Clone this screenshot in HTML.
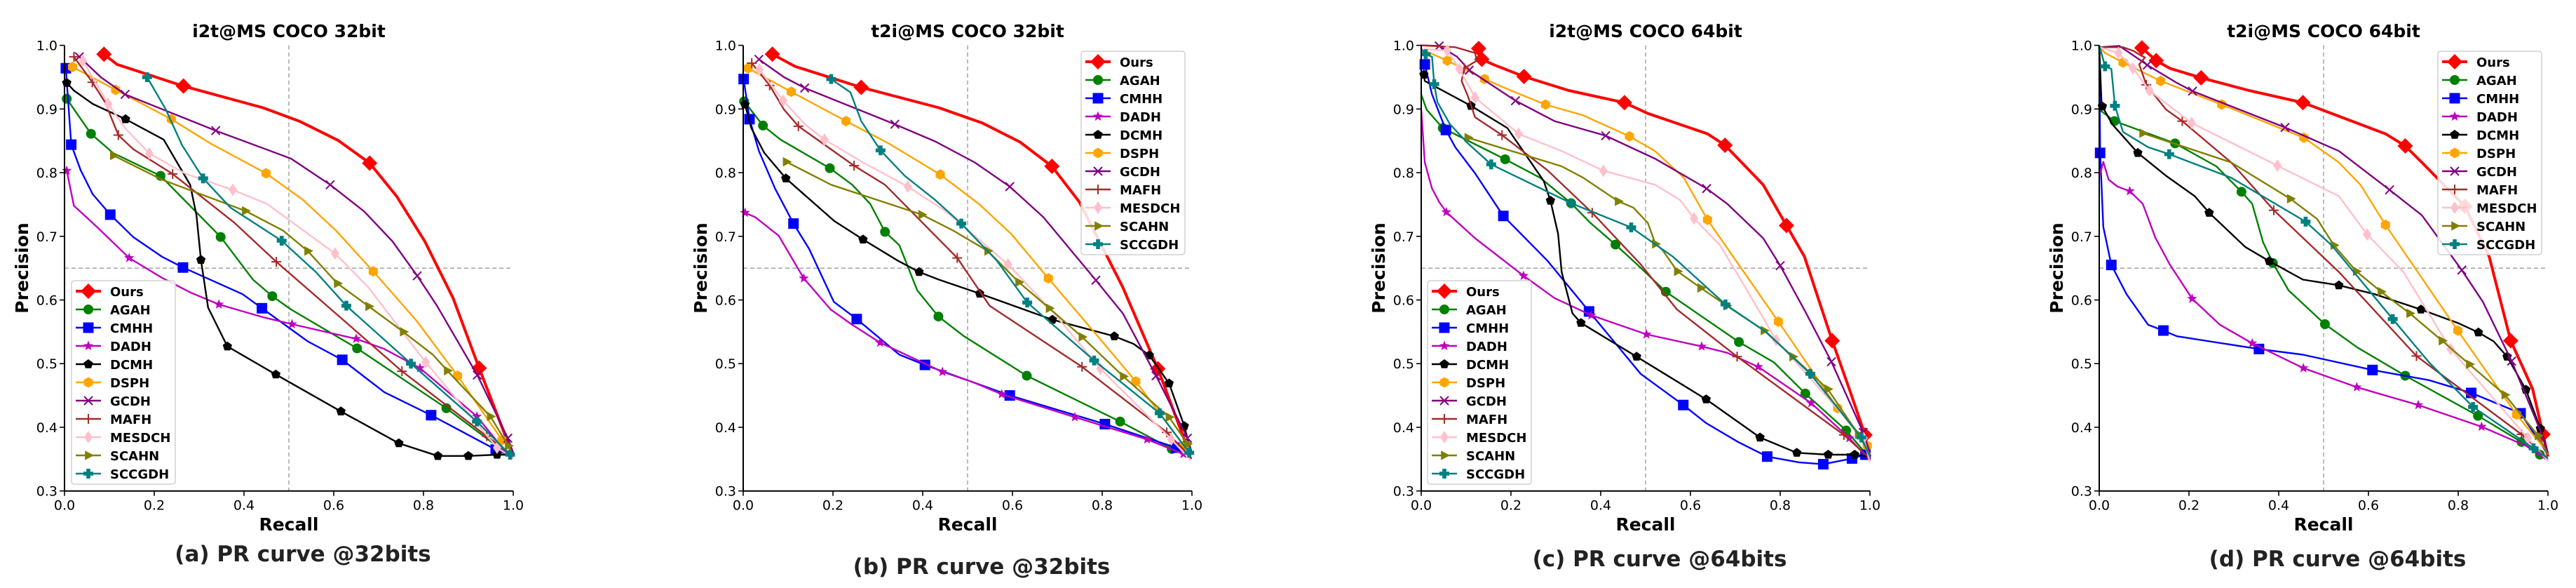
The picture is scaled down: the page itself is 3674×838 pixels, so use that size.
<!DOCTYPE html>
<html><head><meta charset="utf-8">
<style>
html,body{margin:0;padding:0;background:#fff;}
svg{display:block;font-family:"DejaVu Sans","Liberation Sans",sans-serif;}
</style></head>
<body>
<svg id="fig" width="3674" height="838" viewBox="0 0 3674 838" xmlns="http://www.w3.org/2000/svg"></svg>
<script>
// ---- data: [recall, precision, hasMarker] ----
const names = ["Ours","AGAH","CMHH","DADH","DCMH","DSPH","GCDH","MAFH","MESDCH","SCAHN","SCCGDH"];
const titles = ["i2t@MS COCO 32bit","t2i@MS COCO 32bit","i2t@MS COCO 64bit","t2i@MS COCO 64bit"];
const captions = ["(a) PR curve @32bits","(b) PR curve @32bits","(c) PR curve @64bits","(d) PR curve @64bits"];
const xTicks = [0.0,0.2,0.4,0.6,0.8,1.0];
const yTicks = [0.3,0.4,0.5,0.6,0.7,0.8,0.9,1.0];

// panel a
const a_Ours=[[0.088,0.986,1],[0.117,0.970,0],[0.265,0.936,1],[0.442,0.902,0],[0.523,0.881,0],[0.609,0.851,0],[0.680,0.815,1],[0.740,0.763,0],[0.803,0.692,0],[0.866,0.603,0],[0.924,0.493,1],[0.997,0.36,0]];
const a_AGAH=[[0.005,0.916,1],[0.059,0.861,1],[0.108,0.831,0],[0.214,0.795,1],[0.348,0.699,1],[0.42,0.632,0],[0.463,0.606,1],[0.505,0.585,0],[0.652,0.524,1],[0.851,0.430,1],[0.995,0.354,0]];
const a_CMHH=[[0.003,0.964,1],[0.015,0.844,1],[0.036,0.804,0],[0.063,0.766,0],[0.102,0.734,1],[0.153,0.699,0],[0.217,0.668,0],[0.264,0.651,1],[0.397,0.609,0],[0.44,0.587,1],[0.542,0.535,0],[0.619,0.506,1],[0.713,0.455,0],[0.817,0.419,1],[0.961,0.365,1],[1.0,0.354,0]];
const a_DADH=[[0.005,0.803,1],[0.021,0.748,0],[0.072,0.715,0],[0.144,0.666,1],[0.217,0.635,0],[0.28,0.612,0],[0.344,0.593,1],[0.442,0.573,0],[0.507,0.562,1],[0.65,0.539,1],[0.713,0.523,0],[0.792,0.493,1],[0.919,0.417,1],[0.995,0.351,0]];
const a_DCMH=[[0.005,0.941,1],[0.021,0.929,0],[0.063,0.908,0],[0.136,0.884,1],[0.221,0.852,0],[0.28,0.781,0],[0.294,0.733,0],[0.304,0.663,1],[0.32,0.588,0],[0.363,0.527,1],[0.471,0.483,1],[0.616,0.425,1],[0.745,0.375,1],[0.832,0.355,1],[0.9,0.355,1],[0.964,0.357,1],[0.997,0.357,0]];
const a_DSPH=[[0.018,0.966,1],[0.114,0.930,1],[0.238,0.884,1],[0.325,0.846,0],[0.449,0.799,1],[0.532,0.757,0],[0.605,0.709,0],[0.688,0.645,1],[0.785,0.567,0],[0.876,0.481,1],[0.975,0.38,1],[1.0,0.36,0]];
const a_GCDH=[[0.033,0.982,1],[0.081,0.950,0],[0.135,0.923,1],[0.337,0.866,1],[0.505,0.822,0],[0.592,0.781,1],[0.668,0.739,0],[0.731,0.692,0],[0.786,0.638,1],[0.83,0.591,0],[0.92,0.482,1],[0.988,0.383,1],[1.0,0.36,0]];
const a_MAFH=[[0.021,0.982,1],[0.062,0.942,1],[0.09,0.911,0],[0.12,0.859,1],[0.153,0.837,0],[0.241,0.798,1],[0.379,0.721,0],[0.472,0.660,1],[0.614,0.573,0],[0.752,0.488,1],[0.941,0.386,1],[0.997,0.357,0]];
const a_MESDCH=[[0.041,0.976,1],[0.097,0.908,1],[0.135,0.870,0],[0.189,0.830,1],[0.271,0.798,0],[0.375,0.773,1],[0.451,0.751,0],[0.603,0.673,1],[0.677,0.62,0],[0.805,0.502,1],[0.964,0.368,1],[1.0,0.351,0]];
const a_SCAHN=[[0.109,0.827,1],[0.217,0.789,0],[0.403,0.740,1],[0.487,0.709,0],[0.542,0.677,1],[0.608,0.626,1],[0.678,0.590,1],[0.755,0.550,1],[0.821,0.514,0],[0.853,0.489,1],[0.949,0.417,1],[0.989,0.371,1],[1.0,0.354,0]];
const a_SCCGDH=[[0.184,0.950,1],[0.226,0.899,0],[0.262,0.843,0],[0.309,0.791,1],[0.37,0.745,0],[0.484,0.693,1],[0.560,0.644,0],[0.628,0.591,1],[0.772,0.500,1],[0.919,0.409,1],[0.993,0.357,1]];

// panel b
const b_Ours=[[0.065,0.986,1],[0.115,0.967,0],[0.263,0.934,1],[0.436,0.902,0],[0.533,0.878,0],[0.617,0.848,0],[0.688,0.810,1],[0.749,0.754,0],[0.846,0.62,0],[0.924,0.492,1],[0.994,0.36,0]];
const b_AGAH=[[0.002,0.912,1],[0.044,0.874,1],[0.083,0.852,0],[0.193,0.807,1],[0.243,0.781,0],[0.283,0.751,0],[0.316,0.707,1],[0.348,0.686,0],[0.388,0.615,0],[0.435,0.574,1],[0.492,0.543,0],[0.632,0.481,1],[0.840,0.409,1],[0.955,0.366,1],[0.994,0.354,0]];
const b_CMHH=[[0.001,0.947,1],[0.014,0.884,1],[0.035,0.834,0],[0.071,0.775,0],[0.112,0.720,1],[0.147,0.680,0],[0.202,0.597,0],[0.253,0.570,1],[0.348,0.514,0],[0.405,0.498,1],[0.594,0.450,1],[0.806,0.405,1],[0.965,0.368,1],[0.998,0.354,0]];
const b_DADH=[[0.004,0.737,1],[0.027,0.73,0],[0.079,0.701,0],[0.135,0.634,1],[0.195,0.585,0],[0.243,0.561,0],[0.305,0.533,1],[0.444,0.487,1],[0.508,0.472,0],[0.576,0.452,1],[0.739,0.416,1],[0.900,0.381,1],[0.981,0.358,1],[1.0,0.351,0]];
const b_DCMH=[[0.004,0.907,1],[0.018,0.870,0],[0.047,0.831,0],[0.095,0.791,1],[0.203,0.724,0],[0.267,0.695,1],[0.344,0.662,0],[0.392,0.644,1],[0.436,0.632,0],[0.527,0.610,1],[0.689,0.569,1],[0.827,0.543,1],[0.87,0.531,0],[0.905,0.513,1],[0.949,0.469,1],[0.983,0.402,1],[0.998,0.36,0]];
const b_DSPH=[[0.011,0.964,1],[0.107,0.927,1],[0.229,0.881,1],[0.324,0.846,0],[0.439,0.797,1],[0.525,0.751,0],[0.597,0.704,0],[0.680,0.634,1],[0.790,0.543,0],[0.875,0.472,1],[0.982,0.371,1],[1.0,0.357,0]];
const b_GCDH=[[0.035,0.978,1],[0.091,0.950,0],[0.137,0.933,1],[0.338,0.876,1],[0.428,0.849,0],[0.516,0.816,0],[0.594,0.778,1],[0.669,0.730,0],[0.786,0.631,1],[0.846,0.579,0],[0.92,0.481,1],[0.99,0.383,1],[1.0,0.36,0]];
const b_MAFH=[[0.019,0.972,1],[0.059,0.937,1],[0.091,0.899,0],[0.123,0.873,1],[0.247,0.811,1],[0.316,0.781,0],[0.477,0.666,1],[0.549,0.591,0],[0.755,0.495,1],[0.944,0.392,1],[0.998,0.353,0]];
const b_MESDCH=[[0.036,0.962,1],[0.089,0.913,1],[0.139,0.875,0],[0.181,0.852,1],[0.267,0.816,0],[0.367,0.778,1],[0.452,0.739,0],[0.590,0.656,1],[0.693,0.579,0],[0.796,0.492,1],[0.954,0.381,1],[0.998,0.348,0]];
const b_SCAHN=[[0.096,0.817,1],[0.196,0.781,0],[0.398,0.734,1],[0.468,0.709,0],[0.545,0.677,1],[0.614,0.628,1],[0.682,0.587,1],[0.755,0.542,1],[0.847,0.480,1],[0.949,0.416,1],[0.99,0.374,1],[1.0,0.357,0]];
const b_SCCGDH=[[0.196,0.947,1],[0.239,0.926,0],[0.263,0.881,0],[0.306,0.835,1],[0.360,0.795,0],[0.428,0.757,0],[0.486,0.720,1],[0.565,0.662,0],[0.633,0.596,1],[0.782,0.505,1],[0.928,0.422,1],[0.994,0.36,1]];

// panel c
const c_Ours=[[0.128,0.995,1],[0.135,0.978,1],[0.16,0.970,0],[0.229,0.951,1],[0.329,0.929,0],[0.453,0.910,1],[0.505,0.893,0],[0.638,0.861,0],[0.677,0.843,1],[0.762,0.781,0],[0.814,0.717,1],[0.854,0.668,0],[0.916,0.536,1],[0.954,0.46,0],[0.989,0.388,1],[1.0,0.354,0]];
const c_AGAH=[[0.0,0.923,0],[0.012,0.899,0],[0.048,0.870,1],[0.187,0.821,1],[0.265,0.792,0],[0.334,0.752,1],[0.377,0.721,0],[0.433,0.687,1],[0.481,0.656,0],[0.545,0.613,1],[0.708,0.534,1],[0.786,0.502,0],[0.856,0.453,1],[0.947,0.395,1],[1.0,0.351,0]];
const c_CMHH=[[0.008,0.970,1],[0.024,0.923,0],[0.055,0.867,1],[0.076,0.840,0],[0.12,0.799,0],[0.183,0.732,1],[0.281,0.662,0],[0.374,0.582,1],[0.489,0.484,0],[0.584,0.435,1],[0.634,0.407,0],[0.706,0.377,0],[0.771,0.354,1],[0.842,0.345,0],[0.896,0.342,1],[0.96,0.351,1],[0.99,0.357,1]];
const c_DADH=[[0.0,0.899,0],[0.008,0.816,0],[0.024,0.775,0],[0.040,0.754,0],[0.056,0.738,1],[0.12,0.697,0],[0.228,0.638,1],[0.297,0.603,0],[0.379,0.576,1],[0.502,0.546,1],[0.625,0.527,1],[0.682,0.517,0],[0.751,0.495,1],[0.869,0.438,1],[0.954,0.383,1],[1.0,0.348,0]];
const c_DCMH=[[0.006,0.954,1],[0.008,0.944,0],[0.111,0.905,1],[0.192,0.870,0],[0.233,0.828,0],[0.273,0.787,0],[0.288,0.756,1],[0.305,0.704,0],[0.313,0.644,0],[0.337,0.579,0],[0.356,0.564,1],[0.48,0.511,1],[0.635,0.444,1],[0.755,0.384,1],[0.837,0.360,1],[0.907,0.357,1],[0.966,0.357,1],[1.0,0.354,0]];
const c_DSPH=[[0.0,0.994,0],[0.058,0.976,1],[0.141,0.947,1],[0.2,0.929,0],[0.277,0.907,1],[0.361,0.890,0],[0.464,0.857,1],[0.521,0.834,0],[0.585,0.792,0],[0.638,0.726,1],[0.796,0.566,1],[0.928,0.430,1],[0.994,0.371,1],[1.0,0.357,0]];
const c_GCDH=[[0.0,1.0,0],[0.040,0.999,1],[0.08,0.982,0],[0.107,0.961,1],[0.210,0.913,1],[0.297,0.881,0],[0.411,0.858,1],[0.521,0.822,0],[0.636,0.775,1],[0.682,0.751,0],[0.762,0.697,0],[0.800,0.654,1],[0.858,0.579,0],[0.914,0.503,1],[0.985,0.392,1],[1.0,0.36,0]];
const c_MAFH=[[0.0,1.0,0],[0.076,0.997,0],[0.12,0.988,0],[0.124,0.976,0],[0.096,0.964,1],[0.090,0.944,0],[0.104,0.920,0],[0.12,0.887,0],[0.180,0.859,1],[0.281,0.804,0],[0.381,0.737,1],[0.489,0.656,0],[0.57,0.585,0],[0.704,0.511,1],[0.942,0.388,1],[1.0,0.351,0]];
const c_MESDCH=[[0.0,0.994,0],[0.058,0.992,1],[0.085,0.963,1],[0.12,0.918,1],[0.217,0.861,1],[0.313,0.834,0],[0.406,0.803,1],[0.521,0.781,0],[0.577,0.757,0],[0.608,0.728,1],[0.666,0.686,0],[0.722,0.62,0],[0.791,0.537,1],[0.986,0.383,1],[1.0,0.345,0]];
const c_SCAHN=[[0.104,0.855,1],[0.313,0.810,0],[0.361,0.792,0],[0.439,0.755,1],[0.473,0.745,0],[0.505,0.721,0],[0.522,0.688,1],[0.537,0.679,0],[0.571,0.645,1],[0.623,0.619,1],[0.681,0.591,1],[0.764,0.552,1],[0.828,0.511,1],[0.906,0.460,1],[0.974,0.389,1],[1.0,0.357,0]];
const c_SCCGDH=[[0.0,0.994,0],[0.01,0.986,1],[0.024,0.982,0],[0.029,0.939,1],[0.036,0.911,0],[0.064,0.876,0],[0.104,0.846,0],[0.156,0.813,1],[0.334,0.752,1],[0.468,0.714,1],[0.561,0.668,0],[0.678,0.593,1],[0.77,0.549,0],[0.867,0.484,1],[0.981,0.384,1],[1.0,0.354,0]];

// panel d
const d_Ours=[[0.095,0.996,1],[0.127,0.976,1],[0.157,0.964,0],[0.227,0.949,1],[0.334,0.929,0],[0.454,0.910,1],[0.518,0.893,0],[0.638,0.861,0],[0.682,0.842,1],[0.719,0.816,0],[0.815,0.747,1],[0.869,0.668,0],[0.917,0.536,1],[0.966,0.46,0],[0.989,0.389,1],[1.0,0.354,0]];
const d_AGAH=[[0.0,0.899,0],[0.034,0.881,1],[0.169,0.846,1],[0.261,0.810,0],[0.317,0.770,1],[0.341,0.751,0],[0.365,0.691,0],[0.387,0.658,1],[0.422,0.615,0],[0.503,0.562,1],[0.574,0.526,0],[0.682,0.481,1],[0.844,0.418,1],[0.941,0.377,1],[0.982,0.357,1],[1.0,0.351,0]];
const d_CMHH=[[0.0,1.0,0],[0.002,0.831,1],[0.009,0.715,0],[0.027,0.655,1],[0.061,0.609,0],[0.109,0.561,0],[0.143,0.552,1],[0.173,0.543,0],[0.356,0.523,1],[0.454,0.514,0],[0.609,0.490,1],[0.735,0.474,0],[0.829,0.454,1],[0.939,0.422,1],[1.0,0.357,0]];
const d_DADH=[[0.002,0.798,0],[0.009,0.817,0],[0.021,0.789,0],[0.041,0.778,0],[0.068,0.771,1],[0.097,0.751,0],[0.125,0.698,0],[0.157,0.656,0],[0.207,0.602,1],[0.269,0.561,0],[0.341,0.532,1],[0.455,0.493,1],[0.574,0.463,1],[0.711,0.435,1],[0.852,0.401,1],[0.951,0.371,0],[1.0,0.348,0]];
const d_DCMH=[[0.0,1.0,0],[0.005,0.911,0],[0.007,0.904,1],[0.029,0.876,0],[0.086,0.831,1],[0.149,0.795,0],[0.213,0.763,0],[0.245,0.737,1],[0.326,0.683,0],[0.379,0.661,1],[0.454,0.632,0],[0.534,0.623,1],[0.614,0.609,0],[0.717,0.585,1],[0.799,0.564,0],[0.845,0.549,1],[0.879,0.535,0],[0.909,0.511,1],[0.951,0.459,1],[0.983,0.398,1],[1.0,0.36,0]];
const d_DSPH=[[0.0,0.997,0],[0.013,0.988,0],[0.053,0.973,1],[0.137,0.944,1],[0.273,0.907,1],[0.456,0.855,1],[0.534,0.816,0],[0.582,0.781,0],[0.638,0.718,1],[0.799,0.552,1],[0.930,0.420,1],[1.0,0.36,0]];
const d_GCDH=[[0.0,0.997,0],[0.045,0.999,0],[0.093,0.976,0],[0.107,0.969,1],[0.173,0.941,0],[0.208,0.928,1],[0.414,0.871,1],[0.534,0.834,0],[0.647,0.773,1],[0.719,0.733,0],[0.808,0.647,1],[0.855,0.597,0],[0.919,0.504,1],[0.983,0.395,0],[1.0,0.36,0]];
const d_MAFH=[[0.0,0.997,0],[0.053,0.997,0],[0.077,0.991,0],[0.093,0.984,0],[0.102,0.981,0],[0.089,0.970,0],[0.105,0.938,1],[0.149,0.899,0],[0.185,0.881,1],[0.294,0.816,0],[0.389,0.741,1],[0.534,0.644,0],[0.707,0.512,1],[0.941,0.389,1],[1.0,0.351,0]];
const d_MESDCH=[[0.0,0.997,0],[0.043,0.988,1],[0.075,0.964,1],[0.112,0.929,1],[0.206,0.878,1],[0.397,0.811,1],[0.534,0.763,0],[0.597,0.703,1],[0.678,0.644,0],[0.783,0.523,1],[0.955,0.383,1],[1.0,0.347,0]];
const d_SCAHN=[[0.097,0.862,1],[0.294,0.816,0],[0.426,0.759,1],[0.486,0.727,0],[0.523,0.686,1],[0.573,0.645,1],[0.628,0.613,1],[0.692,0.579,1],[0.764,0.536,1],[0.825,0.499,1],[0.904,0.451,1],[0.978,0.387,1],[1.0,0.357,0]];
const d_SCCGDH=[[0.0,1.0,0],[0.013,0.967,1],[0.027,0.963,0],[0.035,0.905,1],[0.053,0.864,0],[0.109,0.840,0],[0.156,0.829,1],[0.294,0.792,0],[0.460,0.723,1],[0.518,0.686,0],[0.654,0.570,1],[0.735,0.502,0],[0.833,0.432,1],[0.968,0.367,1],[1.0,0.351,0]];

const panelSeries = [
 [a_Ours,a_AGAH,a_CMHH,a_DADH,a_DCMH,a_DSPH,a_GCDH,a_MAFH,a_MESDCH,a_SCAHN,a_SCCGDH],
 [b_Ours,b_AGAH,b_CMHH,b_DADH,b_DCMH,b_DSPH,b_GCDH,b_MAFH,b_MESDCH,b_SCAHN,b_SCCGDH],
 [c_Ours,c_AGAH,c_CMHH,c_DADH,c_DCMH,c_DSPH,c_GCDH,c_MAFH,c_MESDCH,c_SCAHN,c_SCCGDH],
 [d_Ours,d_AGAH,d_CMHH,d_DADH,d_DCMH,d_DSPH,d_GCDH,d_MAFH,d_MESDCH,d_SCAHN,d_SCCGDH]
];

// ---- style ----
const colors=["#ff0000","#008000","#0000ff","#bf00bf","#000000","#ffa500","#800080","#a52a2a","#ffc0cb","#808000","#008080"];
const markers=["D","o","s","*","p","h","x","+","d",">","P"];
const panelX=[92,1060,2027,2994];
const PW=640, YT=64.6, YB=699.7;
const legendPos=[[102,400],[1542,73],[2036,400],[3477,73]];
const captionY=[800,818,807,807];

const NS="http://www.w3.org/2000/svg";
const svg=document.getElementById("fig");
function mk(tag,attrs,parent){const e=document.createElementNS(NS,tag);for(const k in attrs)e.setAttribute(k,attrs[k]);(parent||svg).appendChild(e);return e;}

function markerShape(type,cx,cy,col,parent,scale){
  const s=scale||1;let e;
  if(type==="D"){const r=10*s;e=mk("polygon",{points:`${cx},${cy-r} ${cx+r},${cy} ${cx},${cy+r} ${cx-r},${cy}`,fill:col},parent);}
  else if(type==="d"){const r=9*s,w=6*s;e=mk("polygon",{points:`${cx},${cy-r} ${cx+w},${cy} ${cx},${cy+r} ${cx-w},${cy}`,fill:col},parent);}
  else if(type==="o"){e=mk("circle",{cx:cx,cy:cy,r:7*s,fill:col},parent);}
  else if(type==="s"){const r=7.5*s;e=mk("rect",{x:cx-r,y:cy-r,width:2*r,height:2*r,fill:col},parent);}
  else if(type==="*"){const R=7.5*s,r=3.2*s;let p=[];for(let i=0;i<10;i++){const a=-Math.PI/2+i*Math.PI/5,rr=i%2?r:R;p.push((cx+rr*Math.cos(a)).toFixed(1)+","+(cy+rr*Math.sin(a)).toFixed(1));}e=mk("polygon",{points:p.join(" "),fill:col},parent);}
  else if(type==="p"){const R=7*s;let p=[];for(let i=0;i<5;i++){const a=-Math.PI/2+i*2*Math.PI/5;p.push((cx+R*Math.cos(a)).toFixed(1)+","+(cy+R*Math.sin(a)).toFixed(1));}e=mk("polygon",{points:p.join(" "),fill:col},parent);}
  else if(type==="h"){const R=7.5*s;let p=[];for(let i=0;i<6;i++){const a=-Math.PI/2+i*Math.PI/3;p.push((cx+R*Math.cos(a)).toFixed(1)+","+(cy+R*Math.sin(a)).toFixed(1));}e=mk("polygon",{points:p.join(" "),fill:col},parent);}
  else if(type==="x"){const r=6*s;e=mk("path",{d:`M${cx-r},${cy-r}L${cx+r},${cy+r}M${cx-r},${cy+r}L${cx+r},${cy-r}`,stroke:col,"stroke-width":2,fill:"none"},parent);}
  else if(type==="+"){const r=7*s;e=mk("path",{d:`M${cx-r},${cy}L${cx+r},${cy}M${cx},${cy-r}L${cx},${cy+r}`,stroke:col,"stroke-width":2,fill:"none"},parent);}
  else if(type===">"){const r=8*s;e=mk("polygon",{points:`${cx+r},${cy} ${cx-r*0.6},${cy-r*0.85} ${cx-r*0.6},${cy+r*0.85}`,fill:col},parent);}
  else if(type==="P"){const a=7*s,b=2.8*s;e=mk("polygon",{points:`${cx-b},${cy-a} ${cx+b},${cy-a} ${cx+b},${cy-b} ${cx+a},${cy-b} ${cx+a},${cy+b} ${cx+b},${cy+b} ${cx+b},${cy+a} ${cx-b},${cy+a} ${cx-b},${cy+b} ${cx-a},${cy+b} ${cx-a},${cy-b} ${cx-b},${cy-b}`,fill:col},parent);}
  
  
  return e;
}

for(let p=0;p<4;p++){
  const X0=panelX[p];
  const xs=r=>X0+r*PW;
  const ys=v=>YB-(v-0.3)/0.7*(YB-YT);
  const g=mk("g",{});
  
  

  const t=mk("text",{x:X0+PW/2,y:53,"text-anchor":"middle","font-size":25,"font-weight":"bold",fill:"#000"},g);
  t.textContent=titles[p];
  
  

  // reference lines
  const rv=mk("line",{x1:xs(0.5),x2:xs(0.5),y1:YT,y2:YB,stroke:"#aaa","stroke-width":1.6,"stroke-dasharray":"6,4"},g);
  
  
  const rh=mk("line",{x1:X0,x2:X0+PW,y1:ys(0.65),y2:ys(0.65),stroke:"#aaa","stroke-width":1.6,"stroke-dasharray":"6,4"},g);
  
  

  // series
  const series=panelSeries[p];
  for(let s=0;s<series.length;s++){
    const pts=series[s];
    const sg=mk("g",{},g);
    
    
    const d=pts.map((q,i)=>(i?"L":"M")+xs(q[0]).toFixed(1)+","+ys(q[1]).toFixed(1)).join("");
    const ln=mk("path",{d:d,fill:"none",stroke:colors[s],"stroke-width":s===0?4:2.4,"stroke-linejoin":"round"},sg);
    
    
    pts.forEach(q=>{if(q[2])markerShape(markers[s],xs(q[0]),ys(q[1]),colors[s],sg,s===0?1.1:1);});
  }

  // axes
  const ax=mk("path",{d:`M${X0},${YT}L${X0},${YB}L${X0+PW},${YB}`,fill:"none",stroke:"#000","stroke-width":2},g);
  
  
  xTicks.forEach(v=>{
    const tk=mk("line",{x1:xs(v),x2:xs(v),y1:YB,y2:YB+7,stroke:"#000","stroke-width":1.6},g);
    
    
    const tl=mk("text",{x:xs(v),y:YB+27,"text-anchor":"middle","font-size":19,fill:"#000"},g);
    tl.textContent=v.toFixed(1);
    
    
  });
  yTicks.forEach(v=>{
    const tk=mk("line",{x1:X0-7,x2:X0,y1:ys(v),y2:ys(v),stroke:"#000","stroke-width":1.6},g);
    
    
    const tl=mk("text",{x:X0-10,y:ys(v)+7,"text-anchor":"end","font-size":19,fill:"#000"},g);
    tl.textContent=v.toFixed(1);
    
    
  });
  const xl=mk("text",{x:X0+PW/2,y:756,"text-anchor":"middle","font-size":25,"font-weight":"bold",fill:"#000"},g);
  xl.textContent="Recall";
  
  
  const yl=mk("text",{x:0,y:0,"text-anchor":"middle","font-size":25,"font-weight":"bold",fill:"#000",transform:`translate(${X0-52},382) rotate(-90)`},g);
  yl.textContent="Precision";
  
  

  // legend
  const [lx,ly]=legendPos[p];
  const lg=mk("g",{},g);
  
  
  const lb=mk("rect",{x:lx,y:ly,width:148,height:290,rx:4,fill:"#fff","fill-opacity":0.85,stroke:"#d0d0d0","stroke-width":1.5},lg);
  
  
  names.forEach((nm,i)=>{
    const cy=ly+15+i*26;
    const eg=mk("g",{},lg);
    
    
    mk("line",{x1:lx+6,x2:lx+42,y1:cy,y2:cy,stroke:colors[i],"stroke-width":i===0?4:2.4},eg);
    markerShape(markers[i],lx+24,cy,colors[i],eg,i===0?1.1:1);
    const tx=mk("text",{x:lx+55,y:cy+7,"font-size":18,"font-weight":"bold",fill:"#000"},eg);
    tx.textContent=nm;
    
    
  });

  const cp=mk("text",{x:X0+PW/2+20,y:captionY[p],"text-anchor":"middle","font-size":31,"font-weight":"bold",fill:"#222"},g);
  cp.textContent=captions[p];
  
  
}
</script>
</body></html>
